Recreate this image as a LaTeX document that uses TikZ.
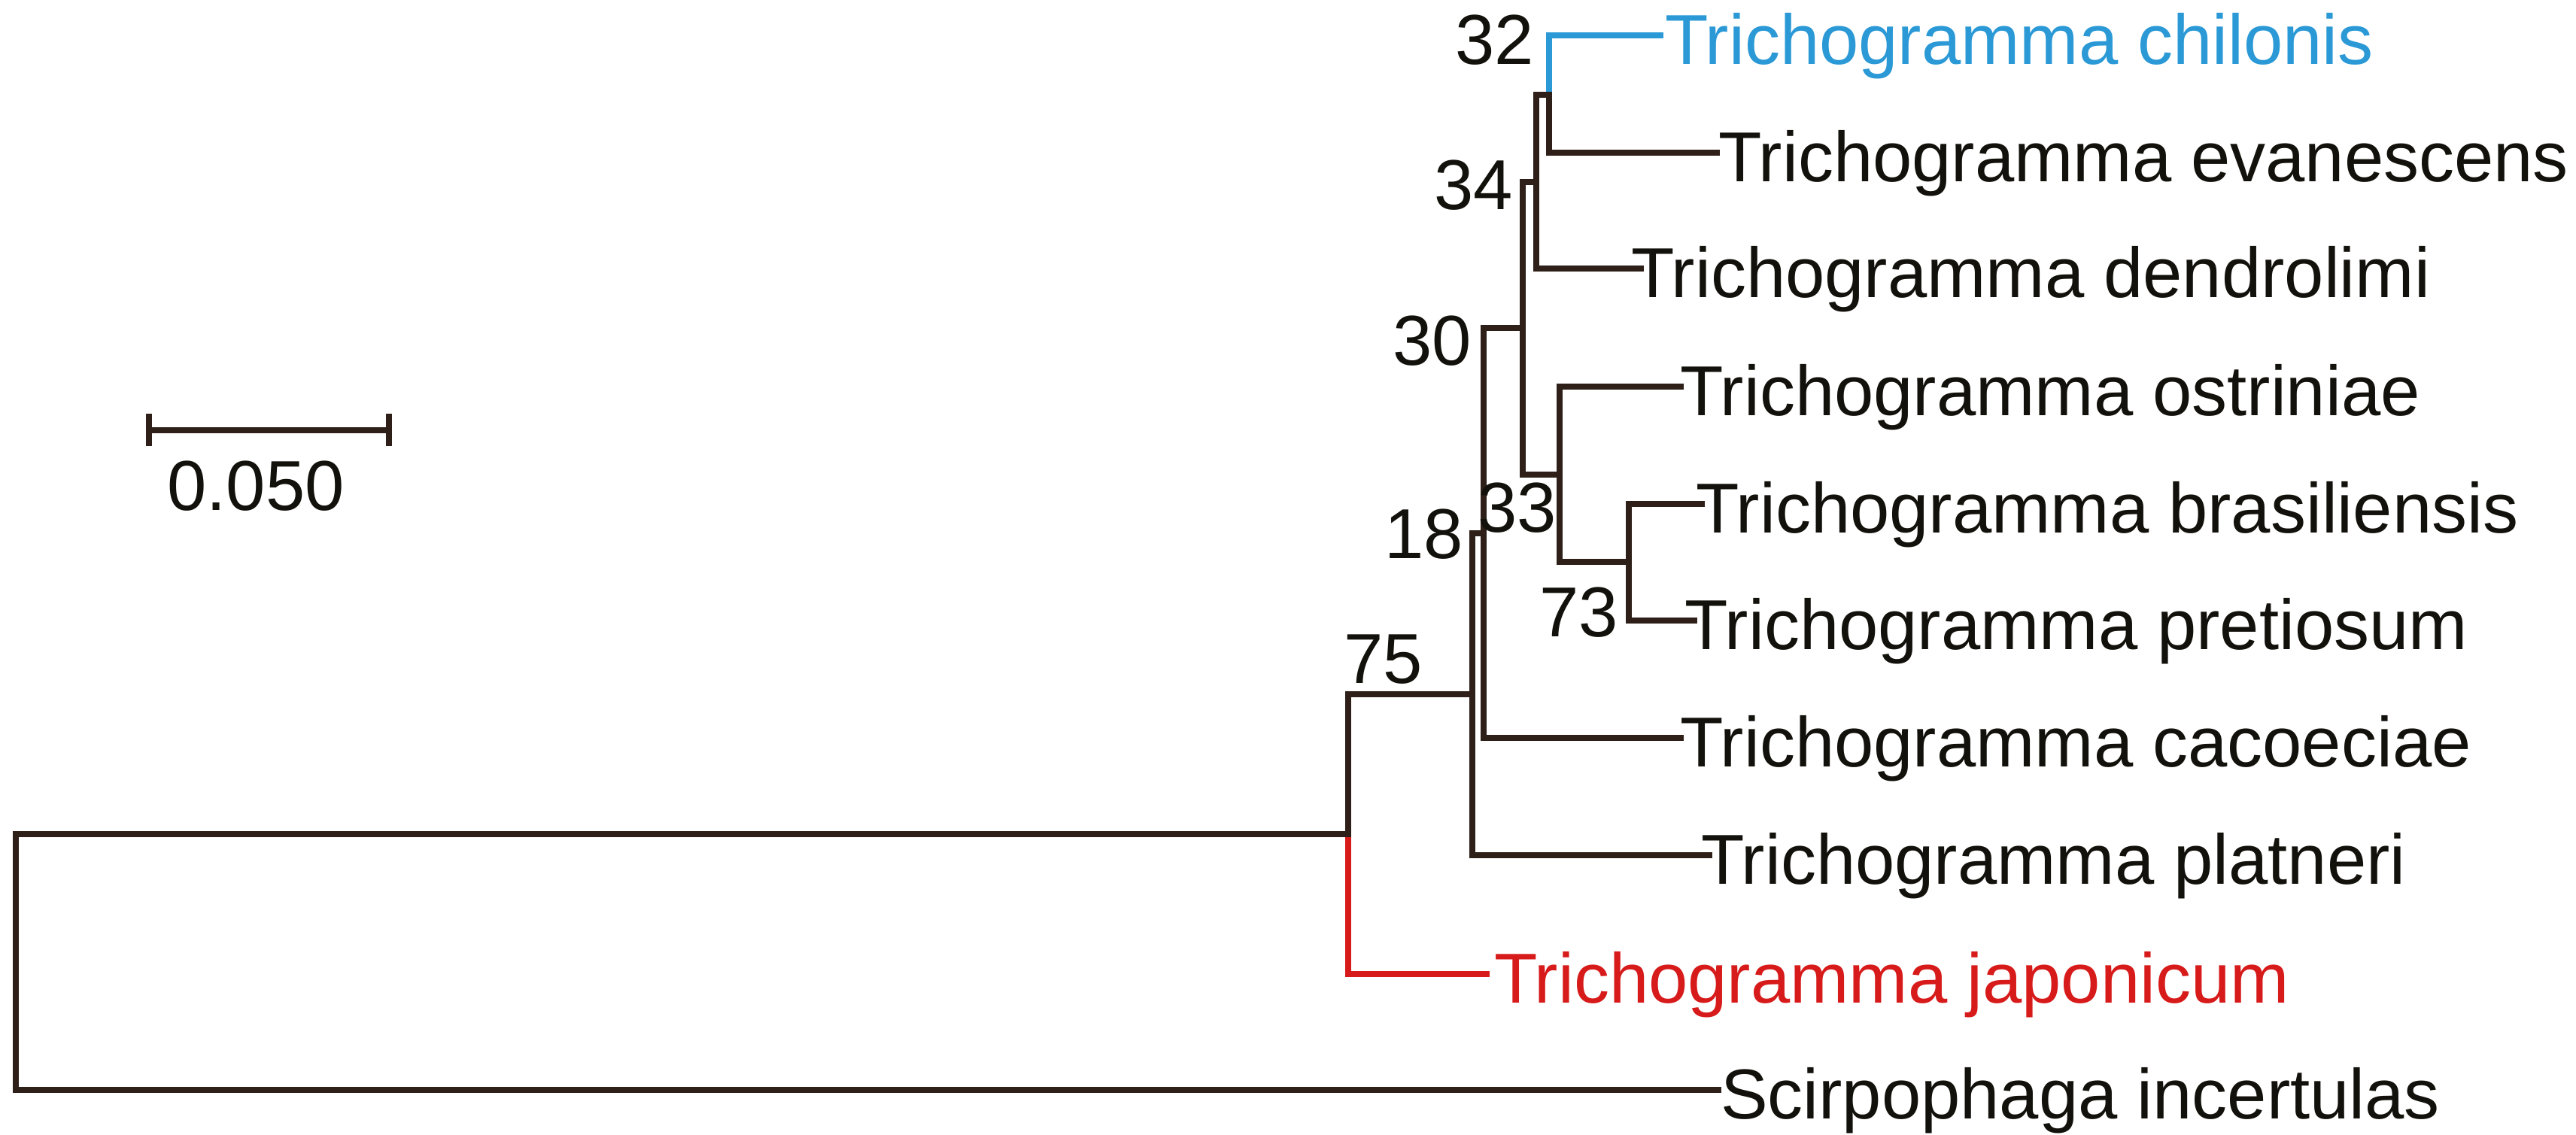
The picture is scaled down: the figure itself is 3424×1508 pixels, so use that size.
\documentclass[tikz,border=0pt]{standalone}
\usepackage{fontspec}
\setmainfont{Liberation Sans}
\definecolor{branchcol}{RGB}{46,32,24}
\definecolor{labelcol}{RGB}{18,17,11}
\definecolor{chilblue}{RGB}{42,153,214}
\definecolor{japred}{RGB}{215,26,26}
\begin{document}
\begin{tikzpicture}[x=0.1pt, y=-0.1pt,
		branch/.style={draw=branchcol, line width=0.85pt, line cap=rect},
		taxon/.style={anchor=base west, inner sep=0pt, text=labelcol, font=\fontsize{9.4}{11}\selectfont},
		boot/.style={anchor=base east, inner sep=0pt, text=labelcol, font=\fontsize{9.4}{11}\selectfont}]
			\useasboundingbox (0,0) rectangle (3424,1508);

			% inner nodes of the tree
			\coordinate (root) at (21,1279);
			\coordinate (nJ) at (1792,1109);
			\coordinate (n75) at (1957,923);
			\coordinate (n18) at (1972,709);
			\coordinate (n30) at (2024,436);
			\coordinate (n34) at (2042,242);
			\coordinate (n32) at (2059,126);
			\coordinate (n33) at (2073,631);
			\coordinate (n73) at (2165,747);

			% tips
			\coordinate (chil) at (2207,47);
			\coordinate (evan) at (2282,203);
			\coordinate (dend) at (2181,357);
			\coordinate (ostr) at (2234,514);
			\coordinate (bras) at (2262,670);
			\coordinate (pret) at (2252,825);
			\coordinate (caco) at (2234,981);
			\coordinate (plat) at (2272,1137);
			\coordinate (japo) at (1976,1295);
			\coordinate (scir) at (2284,1449);

			\draw[branch, draw=japred] (nJ) |- (japo);
			\draw[branch, draw=chilblue] (n32) |- (chil);

			\draw[branch] (root) |- (nJ);
			\draw[branch] (root) |- (scir);
			\draw[branch] (nJ) |- (n75);
			\draw[branch] (n75) |- (n18);
			\draw[branch] (n75) |- (plat);
			\draw[branch] (n18) |- (n30);
			\draw[branch] (n18) |- (caco);
			\draw[branch] (n30) |- (n34);
			\draw[branch] (n30) |- (n33);
			\draw[branch] (n34) |- (n32);
			\draw[branch] (n34) |- (dend);
			\draw[branch] (n32) |- (evan);
			\draw[branch] (n33) |- (ostr);
			\draw[branch] (n33) |- (n73);
			\draw[branch] (n73) |- (bras);
			\draw[branch] (n73) |- (pret);

			\node (tchil) [taxon, text=chilblue] at (2211,85) {Trichogramma chilonis};
			\node (tevan) [taxon] at (2282,241) {Trichogramma evanescens};
			\node (tdend) [taxon] at (2166,395) {Trichogramma dendrolimi};
			\node (tostr) [taxon] at (2231,552) {Trichogramma ostriniae};
			\node (tbras) [taxon] at (2252,708) {Trichogramma brasiliensis};
			\node (tpret) [taxon] at (2237,863) {Trichogramma pretiosum};
			\node (tcaco) [taxon] at (2231,1019) {Trichogramma cacoeciae};
			\node (tplat) [taxon] at (2259,1175) {Trichogramma platneri};
			\node (tjapo) [taxon, text=japred] at (1984,1333) {Trichogramma japonicum};
			\node (tscir) [taxon] at (2285,1487) {Scirpophaga incertulas};

			% bootstrap values
			\node (b32) [boot] at (2041,85) {32};
			\node (b34) [boot] at (2013,278) {34};
			\node (b30) [boot] at (1958,485) {30};
			\node (b33) [boot] at (2071,707) {33};
			\node (b18) [boot] at (1947,742) {18};
			\node (b73) [boot] at (2153,846) {73};
			\node (b75) [boot] at (1893,908) {75};

			% scale bar
			\coordinate (sbl) at (198,572);
			\coordinate (sbr) at (517,572);
			\draw[branch, line cap=butt] (sbl) -- (sbr);
			\draw[branch, line cap=butt] (198,550) -- (198,593);
			\draw[branch, line cap=butt] (517,550) -- (517,593);
			\node (sblabel) [boot, anchor=base] at (340,678) {0.050};

		\end{tikzpicture}
\end{document}
